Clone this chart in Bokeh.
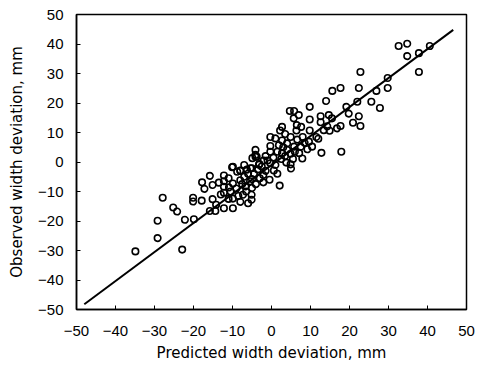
from bokeh.plotting import figure
from bokeh.models import FixedTicker, Range1d
from bokeh.embed import file_html
from bokeh.resources import INLINE

# Observed vs predicted width deviation (mm)
pred_x = [32.6, 34.8, 34.8, 37.8, 40.6, 37.8, 22.8, 29.8, 26.9, 29.8, 22.4, 17.7, 15.6, 14.0,
          22.0, 25.6, 27.8, 19.2, 19.8, 22.4, 20.9, 22.8, 17.7, 16.8, 17.9, 9.8, 4.7, 5.8, 5.7,
          7.0, 9.8, 12.6, 14.7, 15.5, 12.6, 13.4, 14.9, 14.3, 11.5, 12.0, 9.6, 10.4, 9.2, 9.8,
          7.6, 6.4, 2.7, 2.2, -0.3, -0.3, -0.3, 1.9, 2.7, 4.0, 4.9, 6.6, 5.8, 7.5, 7.1, 4.9,
          2.7, 4.0, -4.1, -4.1, -4.9, -3.8, -3.2, -0.3, -10.1, -8.0, -5.4, 4.9,
          -34.9, -29.2, -29.2, -27.9, -22.9, -25.2, -24.2, -22.2, -19.9, -20.1, -20.1, -17.9,
          -17.8, -17.2, -15.8, -15.1, -15.1, -15.8, -14.4, -12.2, -9.9, -14.2, -12.2, -12.2,
          -12.2, -12.2, -10.9, -9.9, -9.9, -9.9, -8.8, -8.0, -8.0, -7.3, -6.7, -6.3, -5.1, -5.1,
          -5.0, -5.0, -5.0, -4.1, -3.1, -2.1, -2.1, 0.6, 2.1, 3.8, 5.0, 7.9, 12.8,
          -11.0, -10.5, -9.0, -8.5, -7.5, -7.0, -6.5, -6.0, -5.5, -4.5, -4.0, -3.5, -3.0, -2.5,
          -1.5, -1.0, -1.5, 0.5, 1.0, 1.5, 2.5, 3.0, 3.5, 5.5, 6.0, 6.5, 8.0, 8.5, 3.5, 1.0,
          -2.0, -7.0, -11.0, -13.0, -13.5, -8.0, -6.0, 1.5, -0.5]
obs_y = [39.3, 40.1, 35.9, 36.9, 39.3, 30.5, 30.5, 28.5, 24.1, 25.1, 25.1, 25.1, 24.1, 20.7,
         20.4, 20.4, 18.3, 18.7, 16.4, 15.5, 13.3, 12.2, 12.2, 11.4, 3.5, 18.7, 17.3, 17.3, 14.8,
         15.9, 14.4, 15.5, 15.9, 14.8, 13.5, 10.8, 10.6, 12.1, 8.5, 7.9, 6.9, 5.2, 4.3, 10.7,
         11.9, 10.7, 11.9, 10.7, 8.5, 5.4, 3.5, 5.7, 7.3, 6.3, 8.5, 7.6, 5.2, 5.2, 3.0, 2.8,
         3.0, 4.2, 4.1, 2.4, 1.3, 1.8, -0.9, -0.4, -1.8, -2.9, -2.1, -0.8,
         -30.3, -25.8, -19.9, -12.1, -29.7, -15.4, -16.8, -19.6, -19.4, -12.1, -13.4, -13.1,
         -6.9, -9.1, -4.7, -7.8, -12.6, -16.6, -16.6, -15.7, -15.7, -14.5, -4.6, -6.5,
         -8.4, -10.4, -8.6, -1.6, -7.3, -12.4, -3.3, -6.2, -3.0, -11.1, -8.3, -2.6, -12.8, -11.1,
         -8.8, -5.8, -2.1, 1.8, -0.7, -4.4, -6.9, -2.9, -8.0, -0.2, -2.2, 1.2, 3.1,
         -5.5, -10.0, -9.0, -11.5, -7.5, -5.0, -10.0, -4.0, -6.5, -4.0, -7.5, -2.5, -5.5, -1.5,
         -3.0, 0.5, 2.0, 1.5, -1.0, 3.5, 1.0, 5.0, 2.0, 1.0, 3.5, 12.5, 8.5, 6.5, 9.5, 8.0,
         0.5, -1.0, -12.5, -11.0, -7.0, -13.5, -14.0, -4.0, -6.0]

fit_x = [-48.0, 46.6]
fit_y = [-48.2, 44.8]

ticks = [-50, -40, -30, -20, -10, 0, 10, 20, 30, 40, 50]
tick_labels = {t: (("\u2212" + str(-t)) if t < 0 else str(t)) for t in ticks}

p = figure(width=478, height=365, output_backend="svg", toolbar_location=None,
           x_range=Range1d(-50, 50), y_range=Range1d(-50, 50),
           min_border_left=76, min_border_right=12, min_border_top=14, min_border_bottom=56)

p.line(fit_x, fit_y, line_color="black", line_width=2)
p.scatter(pred_x, obs_y, size=6.5, marker="circle", fill_color=None,
          line_color="black", line_width=1.6)

p.xgrid.visible = False
p.ygrid.visible = False
p.outline_line_color = "black"
p.outline_line_width = 1.5
p.background_fill_color = "white"
p.border_fill_color = "white"

for ax in (p.xaxis[0], p.yaxis[0]):
    ax.ticker = FixedTicker(ticks=ticks)
    ax.major_label_overrides = tick_labels
    ax.major_tick_in = 4
    ax.major_tick_out = 0
    ax.minor_tick_in = 0
    ax.minor_tick_out = 0
    ax.axis_line_color = "black"
    ax.axis_line_width = 1.5
    ax.major_tick_line_width = 1
    ax.major_label_text_font = "Liberation Sans"
    ax.major_label_text_font_size = "15px"
    ax.major_label_text_color = "black"
    ax.axis_label_text_font = "DejaVu Sans"
    ax.axis_label_text_font_size = "15px"
    ax.axis_label_text_font_style = "normal"
    ax.axis_label_text_color = "black"

p.xaxis.axis_label = "Predicted width deviation, mm"
p.yaxis.axis_label = "Observed width deviation, mm"
p.xaxis.major_label_standoff = 16
p.yaxis.major_label_standoff = 13
p.xaxis.axis_label_standoff = 5
p.yaxis.axis_label_standoff = 9

open("out.html", "w").write(file_html(p, INLINE))
